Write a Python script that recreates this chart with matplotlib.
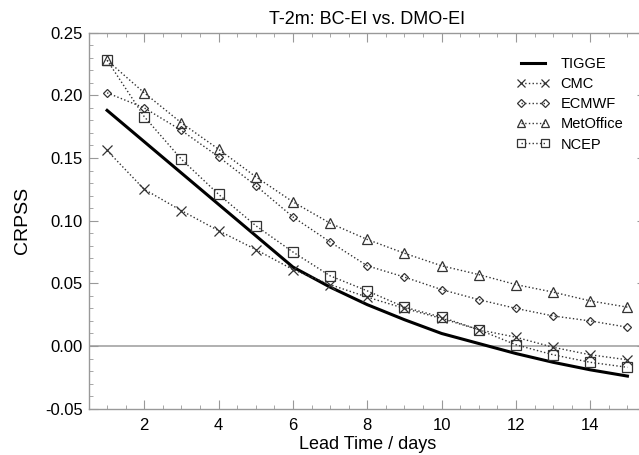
import matplotlib
matplotlib.use("Agg")
import matplotlib.pyplot as plt
from matplotlib.ticker import MultipleLocator, FormatStrFormatter

plt.rcParams['font.family'] = ['Liberation Sans', 'DejaVu Sans']
plt.rcParams['axes.unicode_minus'] = False

days = list(range(1, 16))

tigge = [0.188, 0.163, 0.138, 0.113, 0.088, 0.063, 0.047, 0.033, 0.021,
         0.010, 0.002, -0.006, -0.013, -0.019, -0.024]
cmc = [0.156, 0.125, 0.108, 0.092, 0.077, 0.061, 0.049, 0.039, 0.030,
       0.022, 0.013, 0.007, -0.001, -0.007, -0.011]
ecmwf = [0.202, 0.190, 0.172, 0.151, 0.128, 0.103, 0.083, 0.064, 0.055,
         0.045, 0.037, 0.030, 0.024, 0.020, 0.015]
metoffice = [0.228, 0.202, 0.178, 0.157, 0.135, 0.115, 0.098, 0.085, 0.074,
             0.064, 0.057, 0.049, 0.043, 0.036, 0.031]
ncep = [0.228, 0.183, 0.149, 0.121, 0.096, 0.075, 0.056, 0.044, 0.031,
        0.023, 0.013, 0.001, -0.007, -0.013, -0.017]

fig = plt.figure(figsize=(6.39, 4.55), dpi=100)
ax = fig.add_axes([0.1385, 0.1018, 0.8725, 0.8264])

ax.axhline(0, color='#aaaaaa', lw=1.3, zorder=1)

ax.plot(days, tigge, color='black', lw=2.2, label='TIGGE', zorder=3)

dot = dict(color='#333333', ls=':', lw=1.0, mfc='none', mec='#333333',
           mew=0.9, zorder=4)
ax.plot(days, cmc, marker='x', ms=6.5, label='CMC', **dot)
ax.plot(days, ecmwf, marker='D', ms=4.5, label='ECMWF', **dot)
ax.plot(days, metoffice, marker='^', ms=6.5, label='MetOffice', **dot)
ax.plot(days, ncep, marker='s', ms=6.5, label='NCEP', **dot)

ax.set_xlim(0.5, 15.5)
ax.set_ylim(-0.05, 0.25)
ax.xaxis.set_major_locator(MultipleLocator(2))
ax.xaxis.set_minor_locator(MultipleLocator(0.5))
ax.yaxis.set_major_locator(MultipleLocator(0.05))
ax.yaxis.set_minor_locator(MultipleLocator(0.01))
ax.yaxis.set_major_formatter(FormatStrFormatter('%.2f'))

for s in ax.spines.values():
    s.set_color('#999999')
    s.set_linewidth(1.0)
ax.tick_params(which='both', direction='in', top=True, right=True,
               color='#999999', labelsize=12)
ax.tick_params(which='major', length=6.5)
ax.tick_params(which='minor', length=3)
ax.tick_params(axis='x', pad=7)
ax.tick_params(axis='y', pad=4)

ax.set_title('T-2m: BC-EI vs. DMO-EI', fontsize=13, pad=6)
ax.set_xlabel('Lead Time / days', fontsize=13, labelpad=2)
ax.set_ylabel('CRPSS', fontsize=14, labelpad=10)

ax.legend(loc='upper left', bbox_to_anchor=(0.745, 0.97), frameon=False,
          numpoints=2, fontsize=10.5, handlelength=2.2, labelspacing=0.42,
          handletextpad=0.8, markerscale=0.8)

fig.savefig('out.png', dpi=100)
